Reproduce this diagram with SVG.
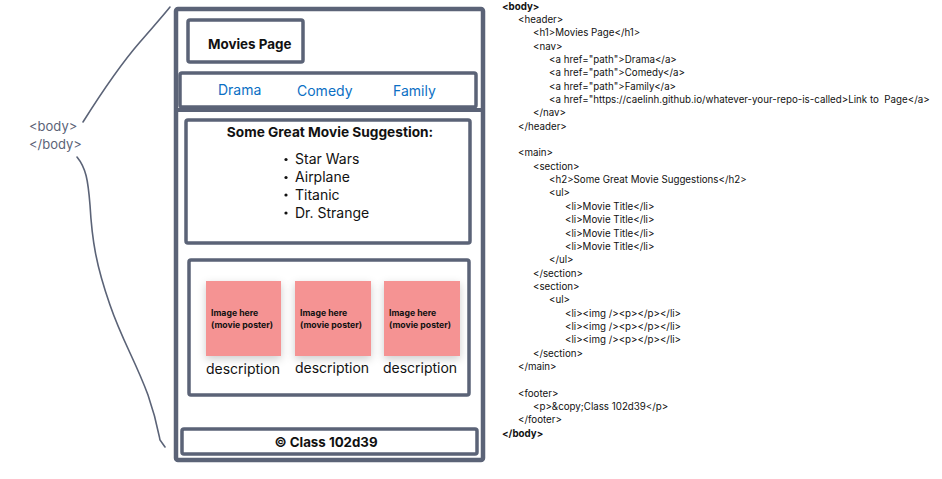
<svg xmlns="http://www.w3.org/2000/svg" width="942" height="479" viewBox="0 0 942 479">
<style>
.box{fill:#fff;stroke:#5b6377;stroke-width:3.5}
.t{font-family:Inter,"Liberation Sans",sans-serif;fill:#111}
.b{font-weight:bold}
.nav{font-family:Inter,"Liberation Sans",sans-serif;fill:#0b6fc4;font-size:14px}
.code{font-family:Inter,"Liberation Sans",sans-serif;fill:#111;font-size:9.75px}
.img{fill:#f59393;filter:url(#sh)}
.lbl{font-family:Inter,"Liberation Sans",sans-serif;fill:#5b6377;font-size:13px}
.con{fill:none;stroke:#5b6377;stroke-width:1.6;stroke-linecap:round}
</style>
<defs>
<filter id="sh" x="-30%" y="-30%" width="160%" height="160%">
<feDropShadow dx="0" dy="3" stdDeviation="4" flood-color="#000" flood-opacity="0.2"/>
</filter>
</defs>
<rect width="942" height="479" fill="#fff"/>

<g id="connectors">
<path class="con" d="M83,122 C100,95 120,65 140,42 C152,28 162,17 170,7"/>
<path class="con" d="M77,157 C86,168 88,180 90,205 C92,240 96,265 110,305 C122,340 135,360 148,395 C156,418 158,430 160,440 L165,447"/>
</g>

<g id="body-label">
<text class="lbl" x="29" y="131">&lt;body&gt;</text>
<text class="lbl" x="29" y="149">&lt;/body&gt;</text>
</g>

<g id="page">
<rect class="box" x="176" y="9" width="307" height="451" rx="2" style="stroke-width:4.5"/>
<line x1="176" y1="110" x2="483" y2="110" stroke="#5b6377" stroke-width="4"/>
</g>

<g id="title">
<rect class="box" x="188" y="20" width="115" height="42" rx="2"/>
<text class="t b" x="208" y="49" font-size="13.4">Movies Page</text>
</g>

<g id="nav">
<rect class="box" x="180" y="73" width="296" height="34" rx="2"/>
<text class="nav" x="218" y="95">Drama</text>
<text class="nav" x="297" y="96">Comedy</text>
<text class="nav" x="393" y="96">Family</text>
</g>

<g id="suggestions">
<rect class="box" x="186" y="120" width="284" height="123" rx="2"/>
<text class="t b" x="330" y="137" font-size="13.7" text-anchor="middle">Some Great Movie Suggestion:</text>
<g class="t" font-size="14">
<circle cx="286" cy="159.5" r="1.6" fill="#111"/>
<text x="295" y="164">Star Wars</text>
<circle cx="286" cy="177.5" r="1.6" fill="#111"/>
<text x="295" y="182">Airplane</text>
<circle cx="286" cy="195" r="1.6" fill="#111"/>
<text x="295" y="199.5">Titanic</text>
<circle cx="286" cy="213" r="1.6" fill="#111"/>
<text x="295" y="217.5">Dr. Strange</text>
</g>
</g>

<g id="posters">
<rect class="box" x="189" y="260" width="280" height="135" rx="2"/>
<g id="poster1">
<rect class="img" x="206" y="281" width="75" height="75"/>
<text class="t b" x="211" y="316" font-size="8.7">Image here</text>
<text class="t b" x="211" y="328" font-size="8.7">(movie poster)</text>
<text class="t" x="243" y="374" font-size="14" text-anchor="middle">description</text>
</g>
<g id="poster2">
<rect class="img" x="295" y="281" width="76" height="75"/>
<text class="t b" x="300" y="316" font-size="8.7">Image here</text>
<text class="t b" x="300" y="328" font-size="8.7">(movie poster)</text>
<text class="t" x="332" y="373" font-size="14" text-anchor="middle">description</text>
</g>
<g id="poster3">
<rect class="img" x="384" y="281" width="76" height="75"/>
<text class="t b" x="389" y="316" font-size="8.7">Image here</text>
<text class="t b" x="389" y="328" font-size="8.7">(movie poster)</text>
<text class="t" x="420" y="373" font-size="14" text-anchor="middle">description</text>
</g>
</g>

<g id="footer">
<rect class="box" x="182" y="429" width="295" height="25" rx="2"/>
<text class="t b" x="326" y="447" font-size="13.3" text-anchor="middle">© Class 102d39</text>
</g>

<g id="code" class="code">
<text x="502" y="9.5" font-weight="bold">&lt;body&gt;</text>
<text x="518" y="23">&lt;header&gt;</text>
<text x="533" y="36.2">&lt;h1&gt;Movies Page&lt;/h1&gt;</text>
<text x="533" y="49.6">&lt;nav&gt;</text>
<text x="549" y="63">&lt;a href="path"&gt;Drama&lt;/a&gt;</text>
<text x="549" y="76.3">&lt;a href="path"&gt;Comedy&lt;/a&gt;</text>
<text x="549" y="89.6">&lt;a href="path"&gt;Family&lt;/a&gt;</text>
<text x="549" y="103" xml:space="preserve">&lt;a href="https://caelinh.github.io/whatever-your-repo-is-called&gt;Link to  Page&lt;/a&gt;</text>
<text x="533" y="116.3">&lt;/nav&gt;</text>
<text x="518" y="129.7">&lt;/header&gt;</text>
<text x="518" y="156.4">&lt;main&gt;</text>
<text x="533" y="169.7">&lt;section&gt;</text>
<text x="549" y="183">&lt;h2&gt;Some Great Movie Suggestions&lt;/h2&gt;</text>
<text x="549" y="196.4">&lt;ul&gt;</text>
<text x="565" y="209.8">&lt;li&gt;Movie Title&lt;/li&gt;</text>
<text x="565" y="223.1">&lt;li&gt;Movie Title&lt;/li&gt;</text>
<text x="565" y="236.5">&lt;li&gt;Movie Title&lt;/li&gt;</text>
<text x="565" y="249.8">&lt;li&gt;Movie Title&lt;/li&gt;</text>
<text x="549" y="263.2">&lt;/ul&gt;</text>
<text x="533" y="276.5">&lt;/section&gt;</text>
<text x="533" y="289.9">&lt;section&gt;</text>
<text x="549" y="303.2">&lt;ul&gt;</text>
<text x="565" y="316.6">&lt;li&gt;&lt;img /&gt;&lt;p&gt;&lt;/p&gt;&lt;/li&gt;</text>
<text x="565" y="330">&lt;li&gt;&lt;img /&gt;&lt;p&gt;&lt;/p&gt;&lt;/li&gt;</text>
<text x="565" y="343.3">&lt;li&gt;&lt;img /&gt;&lt;p&gt;&lt;/p&gt;&lt;/li&gt;</text>
<text x="533" y="356.7">&lt;/section&gt;</text>
<text x="518" y="370">&lt;/main&gt;</text>
<text x="518" y="396.7">&lt;footer&gt;</text>
<text x="533" y="410.1">&lt;p&gt;&amp;copy;Class 102d39&lt;/p&gt;</text>
<text x="518" y="423.4">&lt;/footer&gt;</text>
<text x="502" y="436.8" font-weight="bold">&lt;/body&gt;</text>
</g>
</svg>
